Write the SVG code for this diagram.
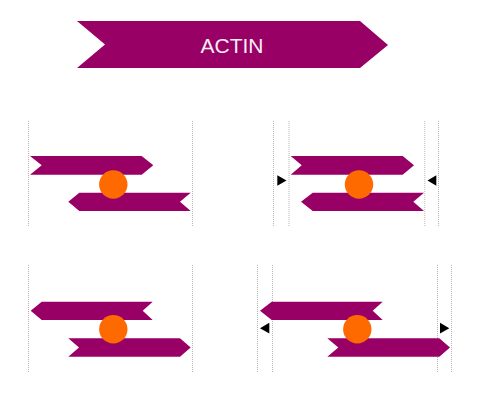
<svg xmlns="http://www.w3.org/2000/svg" width="480" height="403" viewBox="0 0 480 403">
<style>
.band{fill:#990066}
.bead{fill:#ff6a00}
.guide{stroke:#b4b4b4;stroke-width:1;stroke-dasharray:1 1;fill:none}
.tri{fill:#000}
.lbl{font-family:"Liberation Sans",Arial,sans-serif;font-size:21px;fill:#fbeef6;text-anchor:middle}
</style>
<rect width="480" height="403" fill="#fff"/>
<g id="actin">
<polygon class="band" points="77,21 360,21 388,45 360,68 77,68 105,44.5"/>
<text class="lbl" x="232" y="52.5">ACTIN</text>
</g>
<g id="guides">
<line class="guide" x1="28.5" y1="121" x2="28.5" y2="227"/>
<line class="guide" x1="192.5" y1="121" x2="192.5" y2="227"/>
<line class="guide" x1="273.5" y1="121" x2="273.5" y2="227"/>
<line class="guide" x1="289" y1="121" x2="289" y2="227"/>
<line class="guide" x1="424.8" y1="121" x2="424.8" y2="227"/>
<line class="guide" x1="438.5" y1="121" x2="438.5" y2="227"/>
<line class="guide" x1="28.5" y1="265" x2="28.5" y2="373"/>
<line class="guide" x1="192.5" y1="265" x2="192.5" y2="373"/>
<line class="guide" x1="257.5" y1="265" x2="257.5" y2="373"/>
<line class="guide" x1="272.5" y1="265" x2="272.5" y2="373"/>
<line class="guide" x1="437.5" y1="265" x2="437.5" y2="373"/>
<line class="guide" x1="451.5" y1="265" x2="451.5" y2="373"/>
</g>
<g id="panel1">
<polygon class="band" points="30,156 141.7,156 153.3,165.3 141.7,174.7 30,174.7 41.7,165.3"/>
<polygon class="band" points="68.3,201.8 79.3,192.7 190.7,192.7 180,201.8 190.7,211 79.3,211"/>
<circle class="bead" cx="113.3" cy="184.5" r="14.2"/>
</g>
<g id="panel2">
<polygon class="band" points="290.7,156 402.7,156 414,165.3 402.7,174.7 290.7,174.7 301.7,165.3"/>
<polygon class="band" points="301,201.8 312.7,192.7 424,192.7 413.3,201.8 424,211 312.7,211"/>
<circle class="bead" cx="359" cy="184.5" r="14.2"/>
<polygon class="tri" points="277.3,175.3 286.5,180.5 277.3,185.7"/>
<polygon class="tri" points="436.3,175.3 427.5,180.5 436.3,185.7"/>
</g>
<g id="panel3">
<polygon class="band" points="30.7,310.8 41.7,301.7 152.7,301.7 142.7,310.8 152.7,320 41.7,320"/>
<polygon class="band" points="68.3,338.3 180,338.3 190.7,347.5 180,356.7 68.3,356.7 79,347.5"/>
<circle class="bead" cx="113.3" cy="329.3" r="14.2"/>
</g>
<g id="panel4">
<polygon class="band" points="260,310.8 271.7,301.7 382.7,301.7 372.7,310.8 382.7,320 271.7,320"/>
<polygon class="band" points="327.3,338.3 439.3,338.3 450,347.5 439.3,356.7 327.3,356.7 338.3,347.5"/>
<circle class="bead" cx="357.3" cy="329.3" r="14.2"/>
<polygon class="tri" points="269.3,322.8 260,328.2 269.3,333.5"/>
<polygon class="tri" points="440,322.8 449.3,328.2 440,333.5"/>
</g>
</svg>
